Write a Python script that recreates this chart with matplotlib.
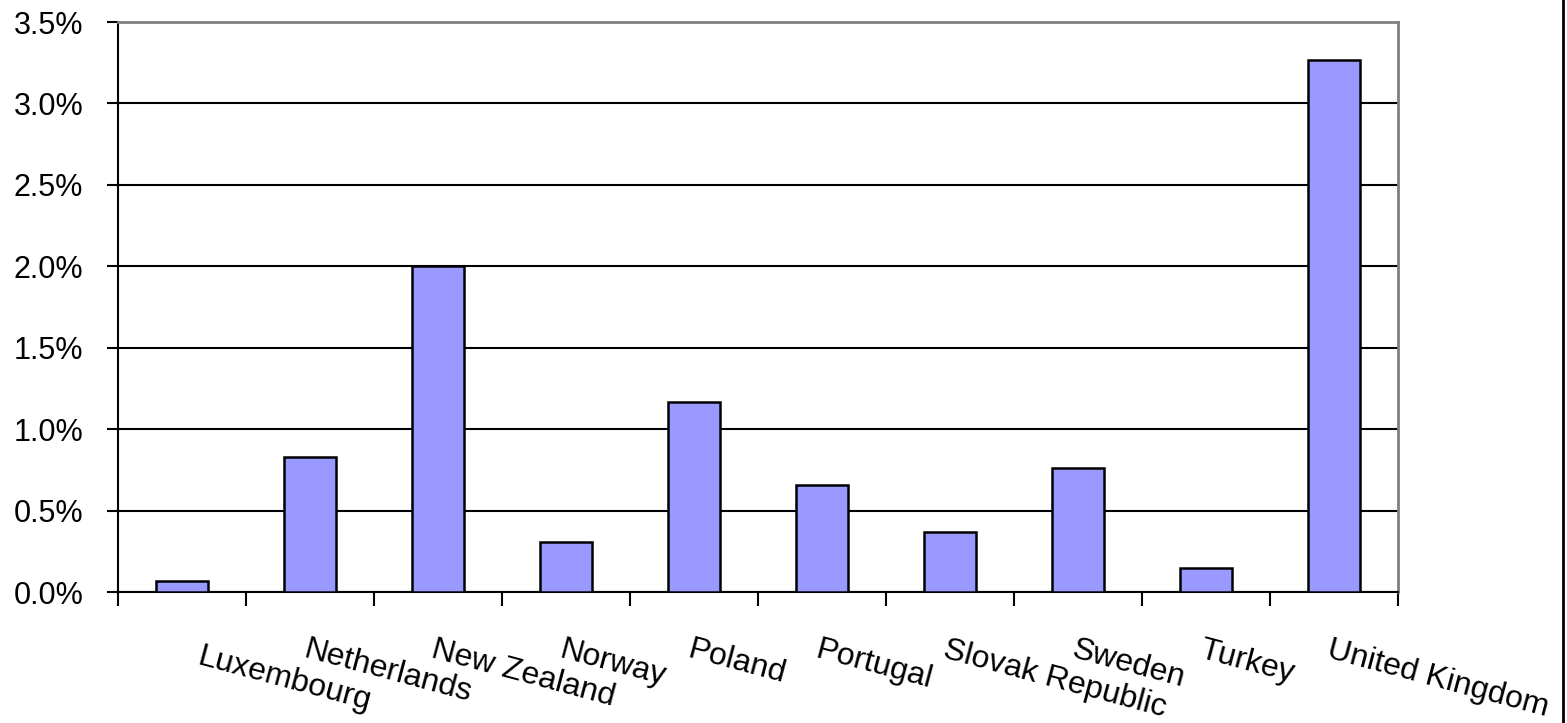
import matplotlib.pyplot as plt
from matplotlib.lines import Line2D
import numpy as np

countries = ['Luxembourg', 'Netherlands', 'New Zealand', 'Norway', 'Poland',
             'Portugal', 'Slovak Republic', 'Sweden', 'Turkey', 'United Kingdom']
values = [0.07, 0.83, 2.00, 0.31, 1.17, 0.66, 0.37, 0.76, 0.15, 3.27]
yticks = [0.0, 0.5, 1.0, 1.5, 2.0, 2.5, 3.0, 3.5]

plt.rcParams['font.family'] = ['Liberation Sans', 'DejaVu Sans']

fig = plt.figure(figsize=(15.67, 7.23), dpi=100)
ax = fig.add_axes([0.0753, 0.181, 0.8169, 0.7885])

x = np.arange(len(countries))
ax.bar(x, values, width=0.41, color='#9999FF', edgecolor='black', linewidth=1.8, zorder=3)

ax.set_xlim(-0.5, len(countries) - 0.5)
ax.set_ylim(0, 3.5)
ax.set_yticks(yticks)
ax.set_yticklabels(['%.1f%%' % v for v in yticks], fontsize=22)
ax.yaxis.grid(True, color='black', linewidth=1.5, zorder=1)

ax.set_xticks(np.arange(len(countries) + 1) - 0.5)
ax.set_xticklabels([])
ax.tick_params(axis='x', length=10, width=1.5, direction='out')
ax.tick_params(axis='y', length=8, width=1.5, direction='out', pad=17)

for s in ['left', 'bottom']:
    ax.spines[s].set_color('black')
    ax.spines[s].set_linewidth(1.5)
for s in ['top', 'right']:
    ax.spines[s].set_color('#808080')
    ax.spines[s].set_linewidth(2)

# category labels, slanted like the original
for i, name in enumerate(countries):
    dx, dy = -2, -43
    if name == 'Luxembourg':
        dx, dy = 20, -50
    ax.annotate(name, xy=(i, 0), xycoords=('data', 'axes fraction'),
                xytext=(dx, dy), textcoords='offset pixels',
                rotation=-15, rotation_mode='anchor', ha='left', va='top',
                fontsize=23)

fig.add_artist(Line2D([0.9975, 0.9975], [0, 1], color='black', linewidth=2))

fig.savefig('out.png', dpi=100)
